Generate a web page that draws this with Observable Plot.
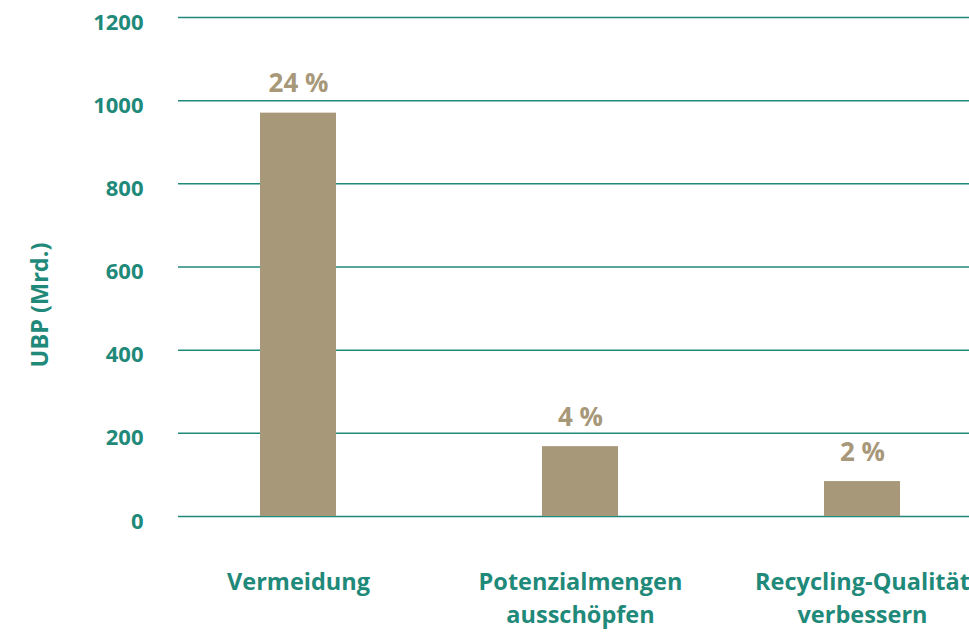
<!DOCTYPE html>
<html>
<head>
<meta charset="utf-8">
<script src="https://cdn.jsdelivr.net/npm/d3@7"></script>
<script src="https://cdn.jsdelivr.net/npm/@observablehq/plot@0.6"></script>
<style>
  html, body { margin: 0; padding: 0; background: #fff; }
</style>
</head>
<body>
<div id="chart"></div>
<script>
const categories = ["Vermeidung", "Potenzialmengen\nausschöpfen", "Recycling-Qualität\nverbessern"];
const values = [970, 168, 84];
const shareLabels = ["24 %", "4 %", "2 %"];
const yTicks = [0, 200, 400, 600, 800, 1000, 1200];
const yLabel = "UBP (Mrd.)";

const teal = "#1f897a";
const tan = "#a8987a";

const data = categories.map((c, i) => ({category: c, value: values[i], share: shareLabels[i]}));

const chart = Plot.plot({
  width: 969,
  height: 632,
  marginTop: 17,
  marginBottom: 116,
  marginLeft: 178,
  marginRight: 0,
  style: {fontFamily: "'Open Sans', sans-serif", fontWeight: "bold", background: "#fff"},
  x: {domain: categories, range: [155.75, 1003.25], paddingInner: 0.731, paddingOuter: 0.3655},
  y: {domain: [0, 1200]},
  marks: [
    Plot.ruleY(yTicks, {stroke: teal, strokeWidth: 1.5}),
    Plot.barY(data, {x: "category", y: "value", fill: tan}),
    Plot.text(data, {x: "category", y: "value", text: "share", fill: tan, fontSize: 26, fontWeight: "bold", lineAnchor: "bottom", dy: -21}),
    Plot.axisY({ticks: yTicks, tickFormat: d => String(d), tickSize: 0, tickPadding: 35, fontSize: 22, fontWeight: "bold", color: teal, label: null, dy: 5}),
    Plot.axisX({tickSize: 0, tickPadding: 50, fontSize: 23.5, fontWeight: "bold", color: teal, label: null, lineHeight: 1.4}),
    Plot.text([yLabel], {frameAnchor: "left", textAnchor: "middle", dx: -138, dy: 38, rotate: -90, fontSize: 23.5, fontWeight: "bold", fill: teal})
  ]
});
document.getElementById("chart").appendChild(chart);
</script>
</body>
</html>
